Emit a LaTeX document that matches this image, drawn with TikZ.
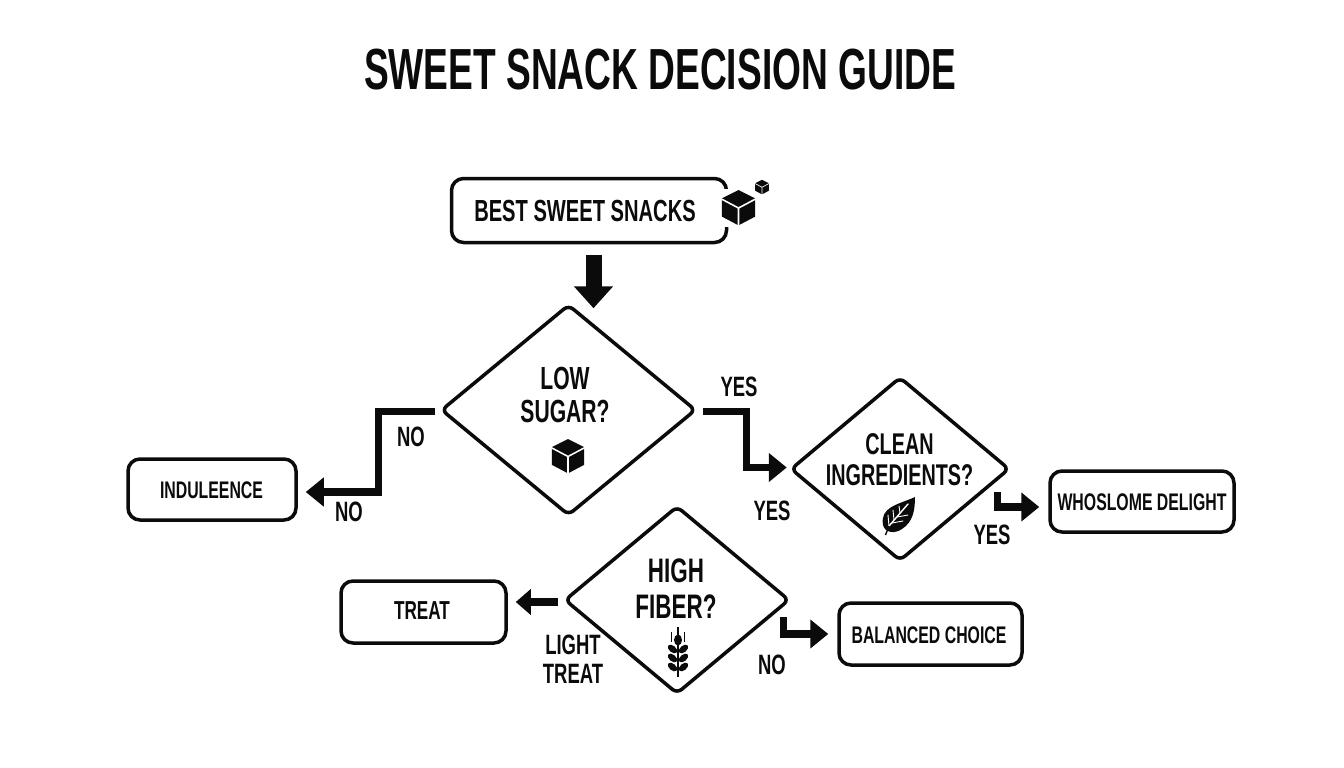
\documentclass[tikz,border=0pt]{standalone}
\usepackage{fontspec}
\setmainfont[FakeStretch=0.66]{Liberation Sans Bold}
\newfontfamily\titlefont[FakeStretch=0.64]{Liberation Sans Bold}
\usetikzlibrary{shapes.geometric,arrows.meta}
\definecolor{ink}{HTML}{0B0B0B}
\newcommand{\fsz}[1]{\fontsize{#1}{#1}\selectfont\setlength{\baselineskip}{1.1\baselineskip}}
\tikzset{
  x=1pt,y=-1pt,
  box/.style={draw=ink,line width=3.5pt,rounded corners=12pt,fill=white,inner sep=0pt},
  dia/.style={draw=ink,line width=3.5pt,diamond,rounded corners=6pt,inner sep=0pt,fill=white},
  lab/.style={text=ink,inner sep=0pt,align=center,font=\fsz{#1}},
  flow/.style={draw=ink,line width=7.5pt},
  bigtip/.style={-{Triangle[length=18pt,width=28pt]}},
  icon/.style={fill=ink,draw=none},
  vein/.style={draw=white,line cap=round}
}
\newcommand{\cubeicon}[3]{%
  \begin{scope}[shift={(#1,#2)},scale=#3]
    \fill[icon,rounded corners=0.3pt] (0,-1) -- (0.95,-0.52) -- (0.95,0.52) -- (0,1.02) -- (-0.95,0.52) -- (-0.95,-0.52) -- cycle;
    \draw[white,line width=#3*0.09pt] (0,0.03) -- (0,1.1) (0,0.03) -- (-1,-0.5) (0,0.03) -- (1,-0.5);
  \end{scope}}
\begin{document}
\begin{tikzpicture}
\useasboundingbox (0,0) rectangle (1344,768);
\fill[white] (0,0) rectangle (1344,768);

\node[text=ink,inner sep=0pt,font=\titlefont\fontsize{58}{58}\selectfont] (title) at (660,70) {SWEET SNACK DECISION GUIDE};

% boxes
\node[box,minimum width=275pt,minimum height=64pt] (start) at (589,210.5) {};
\fill[white] (722,189) rectangle (735,227);
\node[box,minimum width=168pt,minimum height=61pt] (indul) at (212,489.5) {};
\node[box,minimum width=184pt,minimum height=61pt] (whole) at (1142,501.5) {};
\node[box,minimum width=165pt,minimum height=62pt] (treat) at (423.5,612) {};
\node[box,minimum width=183pt,minimum height=62pt] (bal) at (930.5,634) {};

% diamonds
\node[dia,aspect=1.207,minimum width=255pt,minimum height=211pt] (d1) at (568.5,410) {};
\node[dia,aspect=1.194,minimum width=219pt,minimum height=184pt] (d2) at (900,469) {};
\node[dia,aspect=1.201,minimum width=225pt,minimum height=188pt] (d3) at (677,600) {};

% connectors
\draw[flow,line width=16pt,-{Triangle[length=22pt,width=38pt]}] ([xshift=4.5pt,yshift=-11pt]start.south) -- ([xshift=25pt,yshift=-5.5pt]d1.north);
\draw[flow,bigtip] ([xshift=5pt,yshift=-1.5pt]d1.east) -- ++(43.5,0) |- ([xshift=-2pt,yshift=1.5pt]d2.west);
\draw[flow,bigtip] ([xshift=-4pt,yshift=-1.5pt]d1.west) -- ++(-57,0) |- ([xshift=8pt,yshift=-2.5pt]indul.east);
\draw[flow,-{Triangle[length=15pt,width=25pt]}] ([xshift=-5pt,yshift=-2pt]d3.west) -- ([xshift=8pt,yshift=10pt]treat.east);
\draw[flow,bigtip] ([xshift=-8pt,yshift=-17pt]d3.east) |- ([xshift=-9pt]bal.west);
\draw[flow,bigtip] ([xshift=-14pt,yshift=-23pt]d2.east) |- ([xshift=-9pt,yshift=-5.5pt]whole.west);

% texts
\node[lab=30.5] (tstart) at (585,211) {BEST SWEET SNACKS};
\node[lab=32] (t1) at (565,395) {LOW\\[-2pt]SUGAR?};
\node[lab=30] (t2) at (899.5,459.5) {CLEAN\\[-2pt]INGREDIENTS?};
\node[lab=34] (t3) at (676,588.5) {HIGH\\[-2pt]FIBER?};
\node[lab=24] (tindul) at (211.5,490) {INDULEENCE};
\node[lab=24] (twhole) at (1142,502) {WHOSLOME DELIGHT};
\node[lab=26] (ttreat) at (422,611) {TREAT};
\node[lab=24] (tbal) at (929,635) {BALANCED CHOICE};
\node[lab=28] (yes1) at (739,387) {YES};
\node[lab=28] (yes2) at (772,511) {YES};
\node[lab=28] (yes3) at (992,535) {YES};
\node[lab=28] (no1) at (411,437) {NO};
\node[lab=28] (no2) at (349,512) {NO};
\node[lab=28] (no3) at (772,665) {NO};
\node[lab=28] (light) at (573,659.5) {LIGHT\\[-2pt]TREAT};

% icons
\cubeicon{738.5}{207.5}{17.5}
\cubeicon{762}{187}{7.2}
\cubeicon{568}{456}{17}

% leaf
\fill[icon] (915,497) .. controls (897,505) and (880,507) .. (883,525) .. controls (885,533) and (895,534) .. (902,529) .. controls (913,522) and (915,510) .. (915,497) -- cycle;
\draw[vein,line width=1.4pt] (889,526) -- (908,504);
\draw[vein,line width=0.9pt] (889,526) -- (888,515) (894,520) -- (893,510) (900,513) -- (899,506) (892,523) -- (903,521) (897,517) -- (908,515);
\draw[ink,line width=1.4pt] (885.5,535) -- (889,526);

% wheat
\draw[ink,line width=1.3pt] (678,627) -- (678,677);
\draw[ink,line width=1.3pt] (671.5,632) -- (671.5,642) (684.5,632) -- (684.5,642);
\fill[icon] (678,640) ellipse[x radius=4pt,y radius=5.5pt];
\foreach \yy in {649,658,667}{
  \fill[icon,rotate around={-40:(672.5,\yy)}] (672.5,\yy) ellipse[x radius=5.5pt,y radius=3.3pt];
  \fill[icon,rotate around={40:(683.5,\yy)}] (683.5,\yy) ellipse[x radius=5.5pt,y radius=3.3pt];
}
\end{tikzpicture}
\end{document}
